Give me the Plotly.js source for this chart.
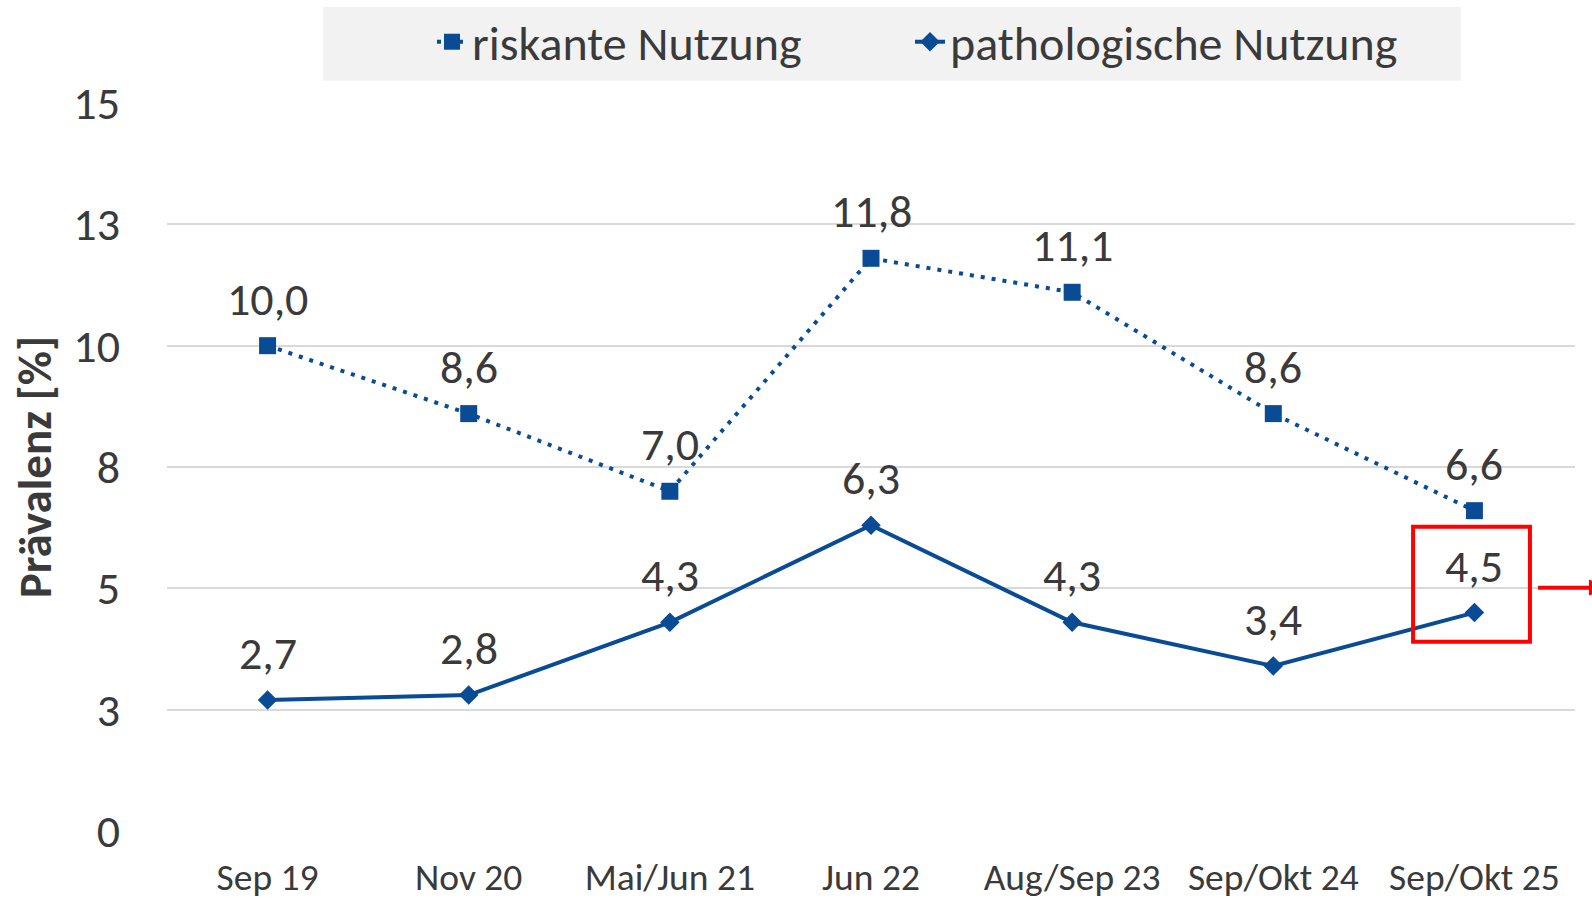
<!DOCTYPE html>
<html>
<head>
<meta charset="utf-8">
<script src="https://cdn.plot.ly/plotly-3.0.1.min.js"></script>
<style>
  html, body { margin: 0; padding: 0; background: #ffffff; }
  #chart { width: 1592px; height: 898px; }
</style>
</head>
<body>
<div id="chart"></div>
<script>
// ---- data ----
const categories = ["Sep 19", "Nov 20", "Mai/Jun 21", "Jun 22", "Aug/Sep 23", "Sep/Okt 24", "Sep/Okt 25"];
const riskanteNutzung = [10.0, 8.6, 7.0, 11.8, 11.1, 8.6, 6.6];
const pathologischeNutzung = [2.7, 2.8, 4.3, 6.3, 4.3, 3.4, 4.5];
const seriesNames = ["riskante Nutzung", "pathologische Nutzung"];
const yTickValues = [0, 2.5, 5, 7.5, 10, 12.5, 15];
const yTickLabels = ["0", "3", "5", "8", "10", "13", "15"];
const yAxisTitle = "Prävalenz [%]";

// ---- style ----
const FONT = "Carlito, Calibri, 'Open Sans', sans-serif";
const BLUE = "#0a4b96";
const TEXT = "#3a3a3a";
const fmt = v => v.toFixed(1).replace(".", ",");

const traces = [
  {
    x: categories, y: riskanteNutzung, name: seriesNames[0], legend: "legend",
    type: "scatter", mode: "lines+markers",
    line: { color: BLUE, width: 4, dash: "4px,7px" },
    marker: { symbol: "square", size: 17, color: BLUE },
    cliponaxis: false
  },
  {
    x: categories, y: pathologischeNutzung, name: seriesNames[1], legend: "legend2",
    type: "scatter", mode: "lines+markers",
    line: { color: BLUE, width: 4 },
    marker: { symbol: "diamond", size: 15, color: BLUE },
    cliponaxis: false
  }
];

const labelAnnotations = [];
[riskanteNutzung, pathologischeNutzung].forEach(series => {
  series.forEach((v, i) => {
    labelAnnotations.push({
      x: categories[i], y: v, xref: "x", yref: "y",
      text: fmt(v), showarrow: false,
      xanchor: "center", yanchor: "middle", yshift: 47,
      font: { family: FONT, size: 46, color: TEXT }
    });
  });
});

const legendCommon = {
  orientation: "h", xanchor: "left", yref: "container", y: 0.9955, yanchor: "top",
  bgcolor: "rgba(0,0,0,0)", font: { family: FONT, size: 48, color: TEXT }
};

const layout = {
  width: 1592, height: 898,
  paper_bgcolor: "#ffffff", plot_bgcolor: "#ffffff",
  margin: { l: 167, r: 17, t: 103, b: 67, pad: 0, autoexpand: false },
  font: { family: FONT, color: TEXT },
  showlegend: true,
  legend: Object.assign({}, legendCommon, { x: 0.1882 }),
  legend2: Object.assign({}, legendCommon, { x: 0.5277 }),
  xaxis: {
    type: "category", range: [-0.5, 6.5],
    showgrid: false, zeroline: false, showline: false,
    ticks: "", tickfont: { family: FONT, size: 37.5, color: TEXT },
    ticklabelstandoff: 20, fixedrange: true
  },
  yaxis: {
    range: [0, 15], tickvals: yTickValues, ticktext: yTickLabels,
    showgrid: true, gridcolor: "#d9d9d9", gridwidth: 2,
    zeroline: false, showline: false, ticks: "",
    tickfont: { family: FONT, size: 46, color: TEXT },
    ticklabelstandoff: 46,
    title: { text: yAxisTitle, font: { family: FONT, size: 47, color: TEXT, weight: "bold" }, standoff: 6 },
    automargin: false, fixedrange: true
  },
  shapes: [
    // legend background
    { type: "rect", xref: "paper", yref: "paper", x0: 0.1108, x1: 0.9190, y0: 1.0306, y1: 1.1323,
      fillcolor: "#f2f2f2", line: { width: 0 }, layer: "below" },
    // red highlight box around the last value
    { type: "rect", xref: "x", yref: "y", x0: 5.695, x1: 6.276, y0: 3.90, y1: 6.27,
      line: { color: "#ff0000", width: 4 }, fillcolor: "rgba(0,0,0,0)", layer: "above" },
    // red arrow shaft leaving the picture
    { type: "line", xref: "paper", yref: "y", x0: 0.9737, x1: 1.0121, y0: 5.013, y1: 5.013,
      line: { color: "#ff0000", width: 4 }, layer: "above" },
    // arrow head (mostly outside the picture)
    { type: "path", xref: "paper", yref: "y", path: "M1.0099,5.18 L1.0249,5.013 L1.0099,4.85 Z",
      fillcolor: "#ff0000", line: { width: 0 }, layer: "above" }
  ],
  annotations: labelAnnotations
};

Plotly.newPlot("chart", traces, layout, { displayModeBar: false, staticPlot: true });
</script>
</body>
</html>
